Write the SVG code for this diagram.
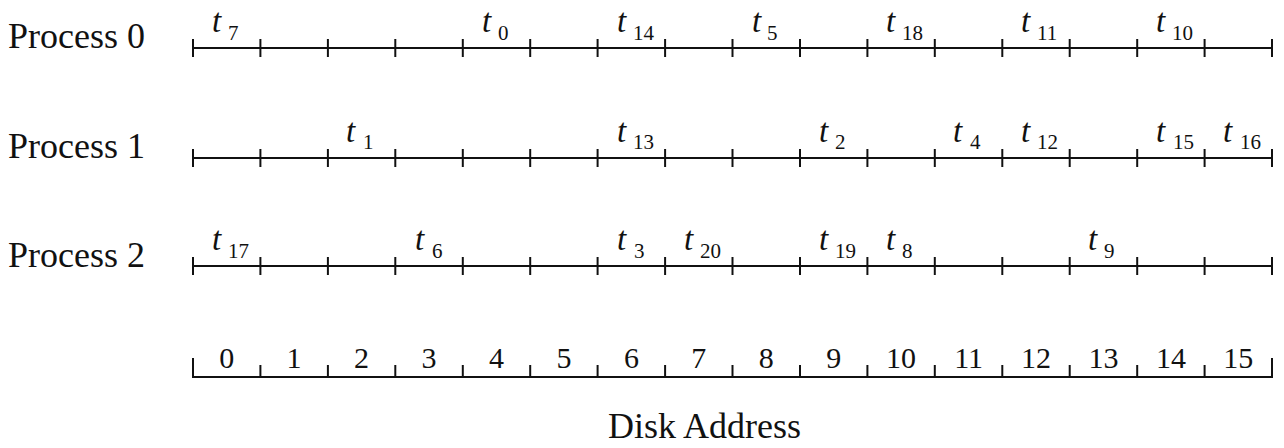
<svg xmlns="http://www.w3.org/2000/svg" width="1284" height="448" viewBox="0 0 1284 448">
<style>
.ln{stroke:#111;stroke-width:2;fill:none}
.tk{stroke:#111;stroke-width:2}
.lbl{font-family:"Liberation Serif","Times New Roman",serif;font-size:36px;fill:#111}
.num{font-family:"Liberation Serif","Times New Roman",serif;font-size:30px;fill:#111;text-anchor:middle}
.t{font-family:"Liberation Serif","Times New Roman",serif;font-style:italic;font-size:33px;fill:#111}
.sub{font-family:"Liberation Serif","Times New Roman",serif;font-style:normal;font-size:21px;fill:#111}
</style>
<defs>
<g id="ticks">
<line class="tk" x1="193" y1="-9" x2="193" y2="9"/>
<line class="tk" x1="260.4" y1="-9" x2="260.4" y2="9"/>
<line class="tk" x1="327.9" y1="-9" x2="327.9" y2="9"/>
<line class="tk" x1="395.3" y1="-9" x2="395.3" y2="9"/>
<line class="tk" x1="462.8" y1="-9" x2="462.8" y2="9"/>
<line class="tk" x1="530.2" y1="-9" x2="530.2" y2="9"/>
<line class="tk" x1="597.6" y1="-9" x2="597.6" y2="9"/>
<line class="tk" x1="665.1" y1="-9" x2="665.1" y2="9"/>
<line class="tk" x1="732.5" y1="-9" x2="732.5" y2="9"/>
<line class="tk" x1="800" y1="-9" x2="800" y2="9"/>
<line class="tk" x1="867.4" y1="-9" x2="867.4" y2="9"/>
<line class="tk" x1="934.8" y1="-9" x2="934.8" y2="9"/>
<line class="tk" x1="1002.3" y1="-9" x2="1002.3" y2="9"/>
<line class="tk" x1="1069.7" y1="-9" x2="1069.7" y2="9"/>
<line class="tk" x1="1137.2" y1="-9" x2="1137.2" y2="9"/>
<line class="tk" x1="1204.6" y1="-9" x2="1204.6" y2="9"/>
<line class="tk" x1="1272" y1="-9" x2="1272" y2="9"/>
<line class="ln" x1="193" y1="0" x2="1272" y2="0"/>
</g>
</defs>

<g id="process0">
<text class="lbl" x="8" y="48">Process 0</text>
<use href="#ticks" transform="translate(0,48)"/>
<text class="t" x="212" y="32">t<tspan class="sub" x="228" y="40">7</tspan></text>
<text class="t" x="482" y="32">t<tspan class="sub" x="498" y="40">0</tspan></text>
<text class="t" x="617" y="32">t<tspan class="sub" x="633" y="40">14</tspan></text>
<text class="t" x="752" y="32">t<tspan class="sub" x="767" y="40">5</tspan></text>
<text class="t" x="886" y="32">t<tspan class="sub" x="902" y="40">18</tspan></text>
<text class="t" x="1021" y="32">t<tspan class="sub" x="1037" y="40">11</tspan></text>
<text class="t" x="1156" y="32">t<tspan class="sub" x="1172" y="40">10</tspan></text>
</g>

<g id="process1">
<text class="lbl" x="8" y="158">Process 1</text>
<use href="#ticks" transform="translate(0,158)"/>
<text class="t" x="346" y="142">t<tspan class="sub" x="363" y="149">1</tspan></text>
<text class="t" x="617" y="142">t<tspan class="sub" x="633" y="149">13</tspan></text>
<text class="t" x="819" y="142">t<tspan class="sub" x="835" y="149">2</tspan></text>
<text class="t" x="953" y="142">t<tspan class="sub" x="970" y="149">4</tspan></text>
<text class="t" x="1021" y="142">t<tspan class="sub" x="1037" y="149">12</tspan></text>
<text class="t" x="1156" y="142">t<tspan class="sub" x="1173" y="149">15</tspan></text>
<text class="t" x="1223" y="142">t<tspan class="sub" x="1240" y="149">16</tspan></text>
</g>

<g id="process2">
<text class="lbl" x="8" y="267">Process 2</text>
<use href="#ticks" transform="translate(0,266)"/>
<text class="t" x="212" y="250">t<tspan class="sub" x="228" y="258">17</tspan></text>
<text class="t" x="415" y="250">t<tspan class="sub" x="432" y="258">6</tspan></text>
<text class="t" x="617" y="250">t<tspan class="sub" x="634" y="258">3</tspan></text>
<text class="t" x="684" y="250">t<tspan class="sub" x="700" y="258">20</tspan></text>
<text class="t" x="819" y="250">t<tspan class="sub" x="835" y="258">19</tspan></text>
<text class="t" x="886" y="250">t<tspan class="sub" x="902" y="258">8</tspan></text>
<text class="t" x="1088" y="250">t<tspan class="sub" x="1104" y="258">9</tspan></text>
</g>

<g id="axis">
<line class="ln" x1="193" y1="377" x2="1272" y2="377"/>
<line class="tk" x1="193" y1="358" x2="193" y2="378"/>
<line class="tk" x1="260.4" y1="365" x2="260.4" y2="377"/>
<line class="tk" x1="327.9" y1="365" x2="327.9" y2="377"/>
<line class="tk" x1="395.3" y1="365" x2="395.3" y2="377"/>
<line class="tk" x1="462.8" y1="365" x2="462.8" y2="377"/>
<line class="tk" x1="530.2" y1="365" x2="530.2" y2="377"/>
<line class="tk" x1="597.6" y1="365" x2="597.6" y2="377"/>
<line class="tk" x1="665.1" y1="365" x2="665.1" y2="377"/>
<line class="tk" x1="732.5" y1="365" x2="732.5" y2="377"/>
<line class="tk" x1="800" y1="365" x2="800" y2="377"/>
<line class="tk" x1="867.4" y1="365" x2="867.4" y2="377"/>
<line class="tk" x1="934.8" y1="365" x2="934.8" y2="377"/>
<line class="tk" x1="1002.3" y1="365" x2="1002.3" y2="377"/>
<line class="tk" x1="1069.7" y1="365" x2="1069.7" y2="377"/>
<line class="tk" x1="1137.2" y1="365" x2="1137.2" y2="377"/>
<line class="tk" x1="1204.6" y1="365" x2="1204.6" y2="377"/>
<line class="tk" x1="1272" y1="358" x2="1272" y2="378"/>
<text class="num" x="226.7" y="368">0</text>
<text class="num" x="294.1" y="368">1</text>
<text class="num" x="361.6" y="368">2</text>
<text class="num" x="429" y="368">3</text>
<text class="num" x="496.5" y="368">4</text>
<text class="num" x="563.9" y="368">5</text>
<text class="num" x="631.4" y="368">6</text>
<text class="num" x="698.8" y="368">7</text>
<text class="num" x="766.2" y="368">8</text>
<text class="num" x="833.7" y="368">9</text>
<text class="num" x="901.1" y="368">10</text>
<text class="num" x="968.6" y="368">11</text>
<text class="num" x="1036" y="368">12</text>
<text class="num" x="1103.5" y="368">13</text>
<text class="num" x="1170.9" y="368">14</text>
<text class="num" x="1238.3" y="368">15</text>
<text class="lbl" x="608" y="438">Disk Address</text>
</g>
</svg>
